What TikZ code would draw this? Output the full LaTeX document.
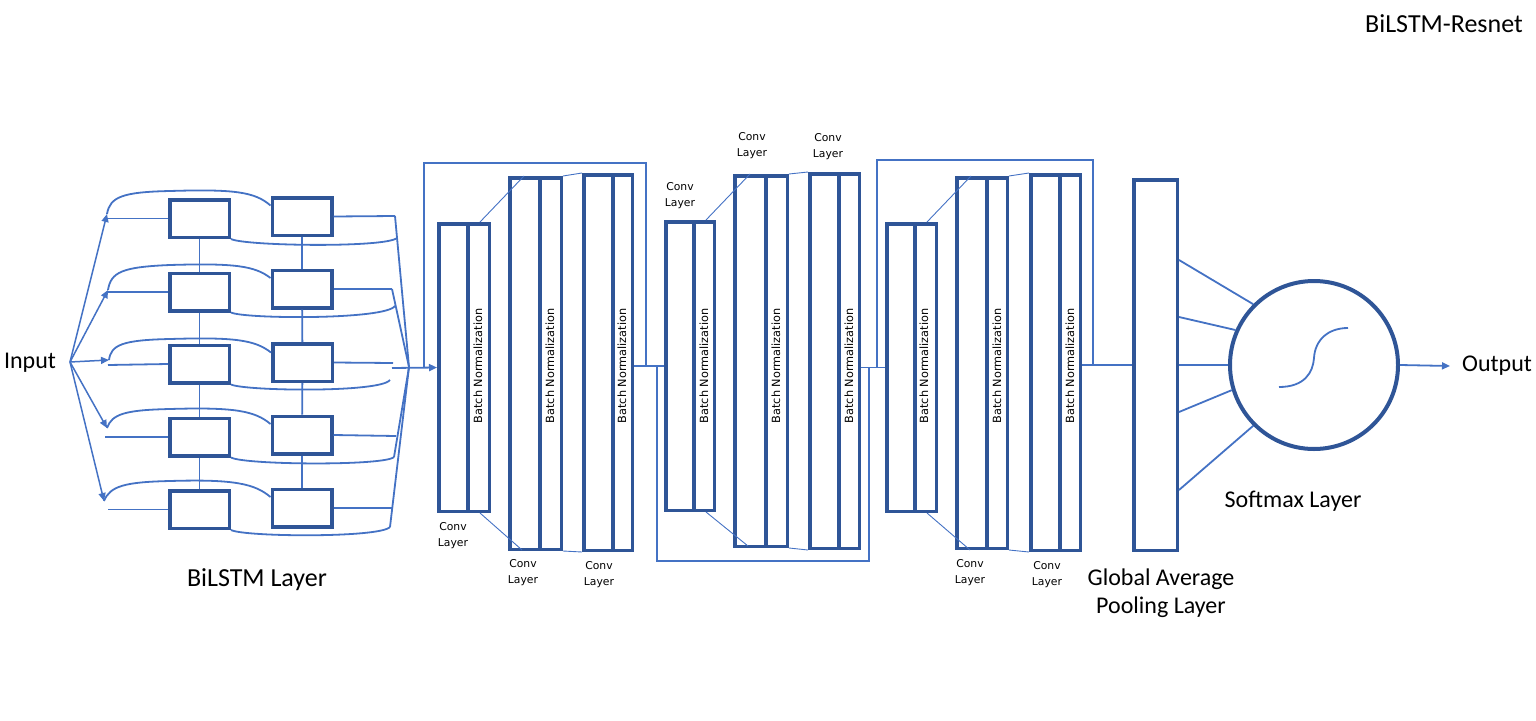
\documentclass[tikz,border=0pt]{standalone}
\usepackage{fontspec}
\setmainfont{Carlito}
\newfontfamily\tinyf{DejaVu Sans}
\usetikzlibrary{arrows.meta,calc}
\definecolor{boxc}{HTML}{2F5597}
\definecolor{lnc}{HTML}{4472C4}
\begin{document}
\begin{tikzpicture}[x=1pt,y=-1pt,
  bx/.style={draw=boxc,line width=3.5pt,inner sep=0pt,fill=white},
  lb/.style={bx,minimum width=59.5pt,minimum height=37.5pt},
  ln/.style={draw=lnc,line width=1.8pt},
  thin/.style={draw=lnc,line width=0.9pt},
  arr/.style={ln,-{Triangle[length=8pt,width=7pt]}},
  dv/.style={draw=boxc,line width=3.5pt},
  big/.style={font=\fontsize{24}{28}\selectfont,inner sep=0pt},
  bigger/.style={font=\fontsize{26}{30}\selectfont,inner sep=0pt},
  bn/.style={font=\tinyf\fontsize{11.3}{13}\selectfont,rotate=90,inner sep=0pt},
  cl/.style={font=\tinyf\fontsize{10.8}{16}\selectfont,align=center,inner sep=0pt}]
\useasboundingbox (0,0) rectangle (1536,720);

% ---------------- BiLSTM ----------------
\node[lb] (L1) at (199.5,218.5) {};
\node[lb] (L2) at (199.5,292) {};
\node[lb] (L3) at (199.5,364) {};
\node[lb] (L4) at (199.5,437) {};
\node[lb] (L5) at (199.5,509.5) {};
\node[lb] (R1) at (302,216.5) {};
\node[lb] (R2) at (302,289) {};
\node[lb] (R3) at (302.5,362.5) {};
\node[lb] (R4) at (302,435) {};
\node[lb] (R5) at (302,508) {};
\foreach \a/\b in {L1/L2,L2/L3,L3/L4,L4/L5,R1/R2,R2/R3,R3/R4,R4/R5}
  \draw[ln] (\a) -- (\b);

\node[big] (in) at (30,363) {Input};
\coordinate (fan) at (70,362);
\coordinate (T1) at (107,214);
\coordinate (T2) at (108,290);
\coordinate (T3) at (109,360);
\coordinate (T4) at (107,428);
\coordinate (T5) at (104,501);
\foreach \t in {T1,T2,T3,T4,T5}
  \draw[arr,line width=1.5pt] (fan) -- (\t);

% top curves
\draw[ln] (T1) .. controls (110,197) and (122,192) .. (170,191) .. controls (235,189) and (255,192) .. ($(R1.west)+(0,-11)$);
\draw[ln] (T2) .. controls (111,272) and (122,267) .. (170,265) .. controls (235,263) and (255,266) .. ($(R2.west)+(0,-11)$);
\draw[ln] (T3) .. controls (111,345) and (122,340) .. (170,339) .. controls (235,337) and (255,340) .. ($(R3.west)+(0,-10)$);
\draw[ln] (T4) .. controls (112,414) and (125,410) .. (170,409) .. controls (235,407) and (255,411) .. ($(R4.west)+(0,-11)$);
\draw[ln] (T5) .. controls (110,486) and (125,482) .. (170,481) .. controls (235,479) and (255,484) .. ($(R5.west)+(0,-11)$);

% input lines
\draw[ln] (108,218.5) -- (L1.west);
\draw[ln] (108,292) -- (L2.west);
\draw[ln] (108,365) -- (L3.west);
\draw[ln] (105,437) -- (L4.west);
\draw[ln] (108,509.5) -- (L5.west);

% right side
\coordinate (M) at (409,367);
\coordinate (E1) at (395,216);
\coordinate (E2) at (392,289);
\coordinate (E4) at (394,457);
\coordinate (E5) at (390,527);
\draw[ln] (R1.east) -- (E1);
\draw[ln] (R2.east) -- (E2);
\draw[ln] (R3.east) -- (393,363);
\draw[ln] (R4.east) -- (396,436);
\draw[ln] (R5.east) -- (392,508);
\foreach \e in {E1,E2,E4,E5} \draw[ln] (\e) -- (M);

% bottom curves
\draw[ln] (L1.south east) .. controls (245,246) and (385,248) .. (397,238);
\draw[ln] (L2.south east) .. controls (245,319) and (385,320) .. (395,306);
\draw[ln] (L3.south east) .. controls (245,391) and (380,393) .. (390,380);
\draw[ln] (L4.south east) .. controls (245,465) and (385,466) .. (E4);
\draw[ln] (L5.south east) .. controls (245,537) and (380,538) .. (E5);

\node[bigger] (bl) at (257,580) {BiLSTM Layer};

% ---------------- Conv blocks ----------------
% block 1
\node[bx,minimum width=50.5pt,minimum height=287.5pt] (A1) at (464,367.5) {};
\node[bx,minimum width=51.5pt,minimum height=371.5pt] (B1) at (535.5,363.5) {};
\node[bx,minimum width=48.5pt,minimum height=375.5pt] (C1) at (608,362.5) {};
% block 2
\node[bx,minimum width=48.5pt,minimum height=288.5pt] (A2) at (690,366) {};
\node[bx,minimum width=52.5pt,minimum height=370.5pt] (B2) at (761,361) {};
\node[bx,minimum width=49.5pt,minimum height=374.5pt] (C2) at (834.5,361) {};
% block 3
\node[bx,minimum width=49.5pt,minimum height=287.5pt] (A3) at (911.5,367.5) {};
\node[bx,minimum width=50.5pt,minimum height=370.5pt] (B3) at (982,363) {};
\node[bx,minimum width=49.5pt,minimum height=375.5pt] (C3) at (1055.5,362.5) {};

\foreach \n/\x in {A1/468,B1/540,C1/613,A2/694,B2/766,C2/839,A3/915,B3/987,C3/1060}
  \draw[dv] (\n.north -| \x,0) -- (\n.south -| \x,0);

\foreach \n/\x in {A1/478,B1/550,C1/622,A2/704,B2/776,C2/849,A3/924,B3/997,C3/1070}
  \node[bn] (bn\n) at (\x,366) {Batch Normalization};

% thin connectors between layers
\draw[thin] (480,222) -- (524,176);
\draw[thin] (480,513) -- (522,550);
\draw[thin] (706,220) -- (750,174);
\draw[thin] (706,512) -- (748,546);
\draw[thin] (927,222) -- (971,176);
\draw[thin] (927,513) -- (970,550);
\draw[thin] (B1.north east) -- (C1.north west);
\draw[thin] (B1.south east) -- (C1.south west);
\draw[thin] (B2.north east) -- (C2.north west);
\draw[thin] (B2.south east) -- (C2.south west);
\draw[thin] (B3.north east) -- (C3.north west);
\draw[thin] (B3.south east) -- (C3.south west);

% conv labels
\node[cl] (c1a) at (453,536) {Conv\\Layer};
\node[cl] (c1b) at (523,573) {Conv\\Layer};
\node[cl] (c1c) at (599,575) {Conv\\Layer};
\node[cl] (c2a) at (680,196) {Conv\\Layer};
\node[cl] (c2b) at (752,146) {Conv\\Layer};
\node[cl] (c2c) at (828,147) {Conv\\Layer};
\node[cl] (c3b) at (970,572.5) {Conv\\Layer};
\node[cl] (c3c) at (1047,575) {Conv\\Layer};

% main flow and skips
\draw[arr] (392,368) -- (A1.west);
\draw[ln] (424,368) -- (424,163) -- (646,163) -- (646,366);
\draw[ln] (C1.east |- A2.west) -- (A2.west);
\draw[ln,line width=1.5pt] (657,366) -- (657,561) -- (869,561) -- (869,367);
\draw[ln] (C2.east |- A3.west) -- (A3.west);
\draw[ln] (877,367) -- (877,160) -- (1093,160) -- (1093,365);

% ---------------- GAP + softmax ----------------
\node[bx,minimum width=43.5pt,minimum height=370.5pt] (GAP) at (1155.5,365) {};
\draw[ln] (C3.east |- GAP.west) -- (GAP.west);
\node[draw=boxc,line width=4pt,circle,minimum size=168pt,inner sep=0pt] (sm) at (1314,365) {};
\draw[ln] ($(GAP.east)+(0,-105)$) -- (sm.135);
\draw[ln] ($(GAP.east)+(0,-48)$) -- (sm.156);
\draw[ln] (GAP.east) -- (sm.west);
\draw[ln] ($(GAP.east)+(0,47)$) -- (sm.197);
\draw[ln] ($(GAP.east)+(0,125)$) -- (sm.225);
\draw[ln] (1279,387) .. controls (1305,387) and (1313,372) .. (1314,358) .. controls (1315,340) and (1328,328) .. (1348,328);

\node[big,anchor=west,inner xsep=12pt] (out) at (1450,366) {Output};
\draw[arr] (sm.east) -- (out.west);

\node[big] (sml) at (1293,501) {Softmax Layer};
\node[big,align=center] (gapl) at (1161,593) {Global Average\\Pooling Layer};
\node[bigger] (tt) at (1444,24) {BiLSTM-Resnet};
\end{tikzpicture}
\end{document}
